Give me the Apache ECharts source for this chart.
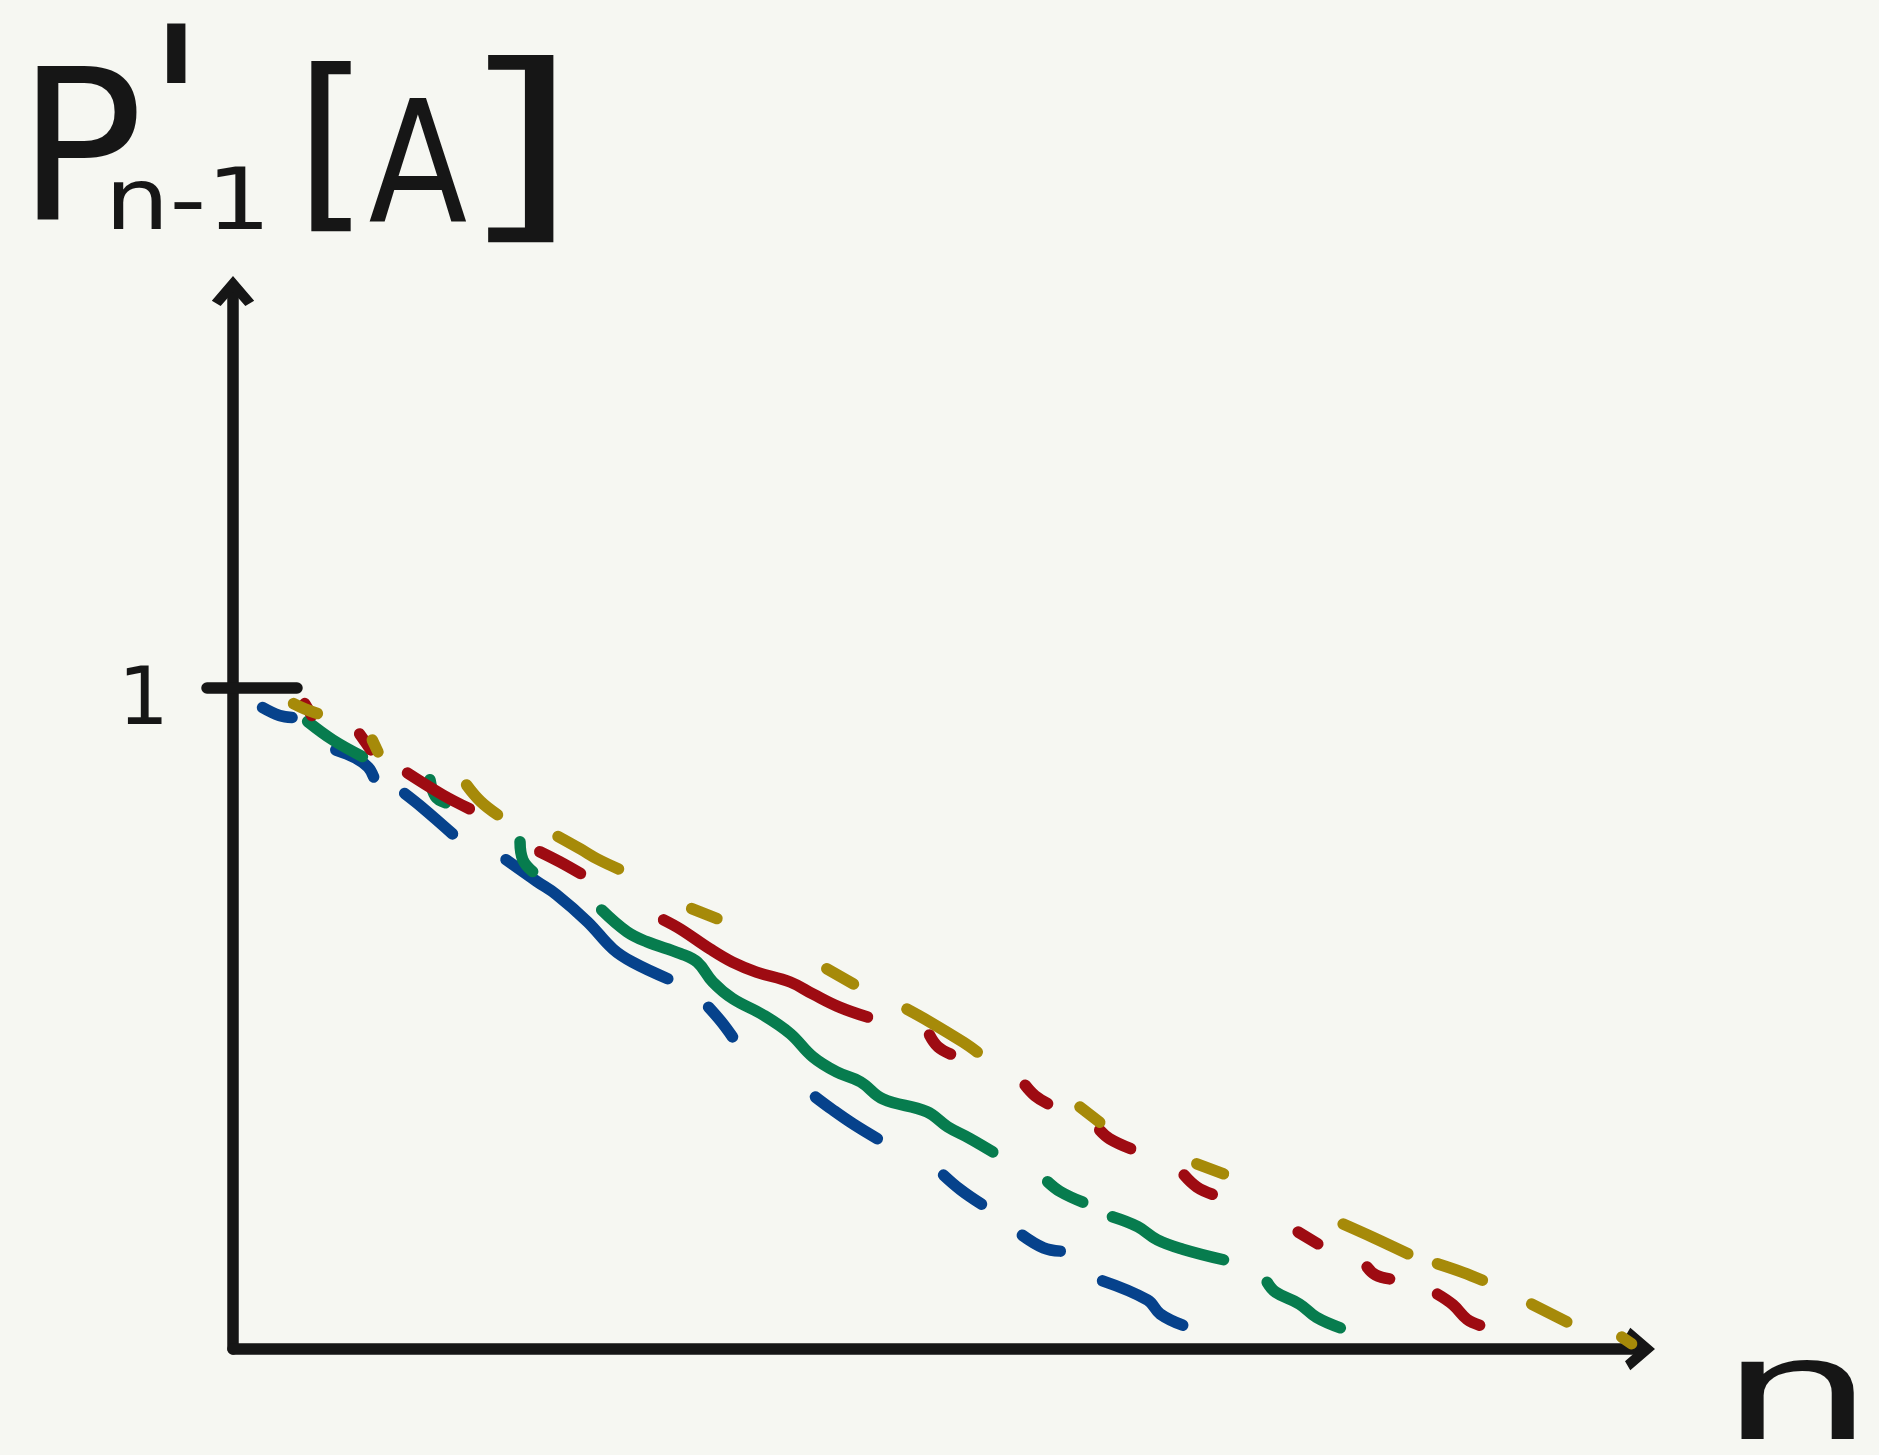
<!DOCTYPE html>
<html>
<head>
<meta charset="utf-8">
<script src="https://cdn.jsdelivr.net/npm/echarts@6/dist/echarts.min.js"></script>
<style>
  html, body { margin: 0; padding: 0; background: #f6f7f2; }
  #main { width: 1879px; height: 1455px; }
</style>
</head>
<body>
<div id="main"></div>
<script>
  // hand-drawn sketch: four dashed curves falling from 1 down to 0 along n
  var yTicks = [1];
  var yTickLabels = ['1'];

  var blueSegments = [
    [[0.21, 0.970], [0.33, 0.958], [0.42, 0.955]],
    [[0.73, 0.906], [0.87, 0.894], [0.96, 0.880], [1.00, 0.865]],
    [[1.22, 0.840], [1.35, 0.818], [1.56, 0.779]],
    [[1.94, 0.740], [2.16, 0.707], [2.30, 0.687], [2.52, 0.646], [2.70, 0.605], [2.84, 0.585], [3.09, 0.560]],
    [[3.38, 0.517], [3.47, 0.495], [3.55, 0.472]],
    [[4.14, 0.381], [4.26, 0.362], [4.41, 0.340], [4.58, 0.318]],
    [[5.05, 0.263], [5.17, 0.241], [5.32, 0.219]],
    [[5.61, 0.172], [5.76, 0.153], [5.88, 0.148]],
    [[6.18, 0.103], [6.50, 0.074], [6.59, 0.053], [6.75, 0.036]]
  ];

  var greenSegments = [
    [[0.53, 0.949], [0.71, 0.921], [0.92, 0.896]],
    [[1.40, 0.861], [1.44, 0.835], [1.51, 0.826]],
    [[2.04, 0.767], [2.06, 0.740], [2.13, 0.722]],
    [[2.62, 0.664], [2.80, 0.631], [2.94, 0.616], [3.18, 0.598], [3.30, 0.585], [3.41, 0.555], [3.55, 0.530],
     [3.77, 0.505], [3.96, 0.477], [4.12, 0.442], [4.29, 0.419], [4.46, 0.404], [4.62, 0.378], [4.93, 0.359],
     [5.08, 0.336], [5.24, 0.318], [5.40, 0.298]],
    [[5.79, 0.253], [5.88, 0.238], [6.04, 0.222]],
    [[6.25, 0.200], [6.43, 0.185], [6.57, 0.165], [6.75, 0.151], [7.04, 0.135]],
    [[7.35, 0.101], [7.41, 0.086], [7.58, 0.068], [7.70, 0.048], [7.87, 0.032]]
  ];

  var redSegments = [
    [[0.51, 0.976], [0.56, 0.958]],
    [[0.90, 0.930], [0.95, 0.915], [0.98, 0.906]],
    [[1.24, 0.871], [1.49, 0.838], [1.68, 0.817]],
    [[2.18, 0.752], [2.32, 0.737], [2.47, 0.719]],
    [[3.06, 0.649], [3.18, 0.635], [3.39, 0.605], [3.55, 0.585], [3.72, 0.570], [3.96, 0.555], [4.12, 0.537],
     [4.31, 0.517], [4.51, 0.502]],
    [[4.95, 0.475], [5.01, 0.457], [5.10, 0.446]],
    [[5.63, 0.399], [5.70, 0.383], [5.79, 0.371]],
    [[6.16, 0.331], [6.23, 0.318], [6.38, 0.303]],
    [[6.76, 0.263], [6.85, 0.245], [6.96, 0.234]],
    [[7.57, 0.177], [7.71, 0.159]],
    [[8.06, 0.124], [8.12, 0.112], [8.22, 0.106]],
    [[8.56, 0.083], [8.67, 0.067], [8.77, 0.045], [8.86, 0.036]]
  ];

  var goldSegments = [
    [[0.43, 0.976], [0.51, 0.968], [0.60, 0.961]],
    [[0.99, 0.921], [1.03, 0.903]],
    [[1.66, 0.853], [1.76, 0.828], [1.88, 0.808]],
    [[2.31, 0.775], [2.47, 0.756], [2.59, 0.741], [2.74, 0.726]],
    [[3.26, 0.666], [3.44, 0.651]],
    [[4.22, 0.575], [4.41, 0.552]],
    [[4.79, 0.514], [4.95, 0.495], [5.19, 0.464], [5.29, 0.449]],
    [[6.02, 0.366], [6.16, 0.343]],
    [[6.85, 0.280], [7.04, 0.265]],
    [[7.89, 0.189], [8.10, 0.169], [8.35, 0.144]],
    [[8.56, 0.129], [8.74, 0.116], [8.88, 0.104]],
    [[9.23, 0.068], [9.48, 0.041]],
    [[9.87, 0.018], [9.94, 0.008]]
  ];

  var ink = '#161616';
  // open chevron, pointing up
  var arrowHead = 'path://M12,0 L24,14 L19,17 L12,9 L5,17 L0,14 Z';

  // dashes -> one line with gaps between the strokes
  function joinSegments(segs) {
    var out = [];
    segs.forEach(function (seg, i) {
      if (i > 0) out.push('-');
      seg.forEach(function (p) { out.push(p); });
    });
    return out;
  }

  function curve(name, segs, color) {
    return {
      name: name,
      type: 'line',
      data: joinSegments(segs),
      connectNulls: false,
      smooth: 0.4,
      showSymbol: false,
      symbol: 'none',
      silent: true,
      lineStyle: { color: color, width: 11.5, cap: 'round', join: 'round' }
    };
  }

  function glyph(text, size, x, y, sx) {
    return {
      type: 'text', x: x, y: y, scaleX: sx || 1,
      style: { text: text, fill: ink, font: size + 'px "DejaVu Sans"', align: 'center', verticalAlign: 'top' }
    };
  }

  var chart = echarts.init(document.getElementById('main'));
  var option = {
    backgroundColor: '#f6f7f2',
    animation: false,
    grid: { left: 233, right: 239, top: 291, bottom: 106 },
    xAxis: {
      type: 'value',
      min: 0,
      max: 10,
      axisLine: {
        show: true,
        symbol: ['none', arrowHead],
        symbolSize: [44, 30],
        lineStyle: { color: ink, width: 11.5, cap: 'round' }
      },
      axisTick: { show: false },
      axisLabel: { show: false },
      splitLine: { show: false }
    },
    yAxis: [{
      type: 'value',
      min: 0,
      max: 1.6,
      axisLine: {
        show: true,
        symbol: ['none', arrowHead],
        symbolSize: [44, 30],
        lineStyle: { color: ink, width: 11.5, cap: 'round' }
      },
      axisTick: {
        show: true,
        length: 26,
        customValues: yTicks,
        lineStyle: { color: ink, width: 11.5, cap: 'round' }
      },
      axisLabel: {
        show: true,
        customValues: yTicks,
        // empty first line pushes the digit a little below the tick, as drawn
        formatter: function (v) { return '{gap| }\n{v|' + (yTickLabels[yTicks.indexOf(v)] || '') + '}'; },
        margin: 64,
        rich: {
          gap: { fontSize: 10, lineHeight: 30 },
          v: { color: ink, fontFamily: 'DejaVu Sans', fontSize: 80, lineHeight: 84 }
        }
      },
      splitLine: { show: false }
    }, {
      type: 'value',
      min: 0,
      max: 1.6,
      position: 'left',
      axisLine: { show: false },
      axisTick: {
        show: true,
        inside: true,
        length: 64,
        customValues: yTicks,
        lineStyle: { color: ink, width: 11.5, cap: 'round' }
      },
      axisLabel: { show: false },
      splitLine: { show: false }
    }],
    graphic: [
      { type: 'text', left: 17, top: 60, style: { text: 'P', fill: ink, font: '210px "DejaVu Sans"' } },
      { type: 'text', left: 146, top: 17, style: { text: "'", fill: ink, font: '220px "DejaVu Sans"' } },
      glyph('n-1', 85, 188, 164, 1.2),
      { type: 'text', left: 295, top: 62, style: { text: '[', fill: ink, font: '190px "DejaVu Sans"' } },
      glyph('A', 170, 418, 93, 0.85),
      glyph(']', 210, 519, 55, 1.5),
      glyph('n', 140, 1797, 1333, 1.75)
    ],
    series: [
      curve('blue', blueSegments, '#06428c'),
      curve('green', greenSegments, '#077c4e'),
      curve('red', redSegments, '#9e0b12'),
      curve('gold', goldSegments, '#a68a09')
    ]
  };
  chart.setOption(option);
</script>
</body>
</html>
